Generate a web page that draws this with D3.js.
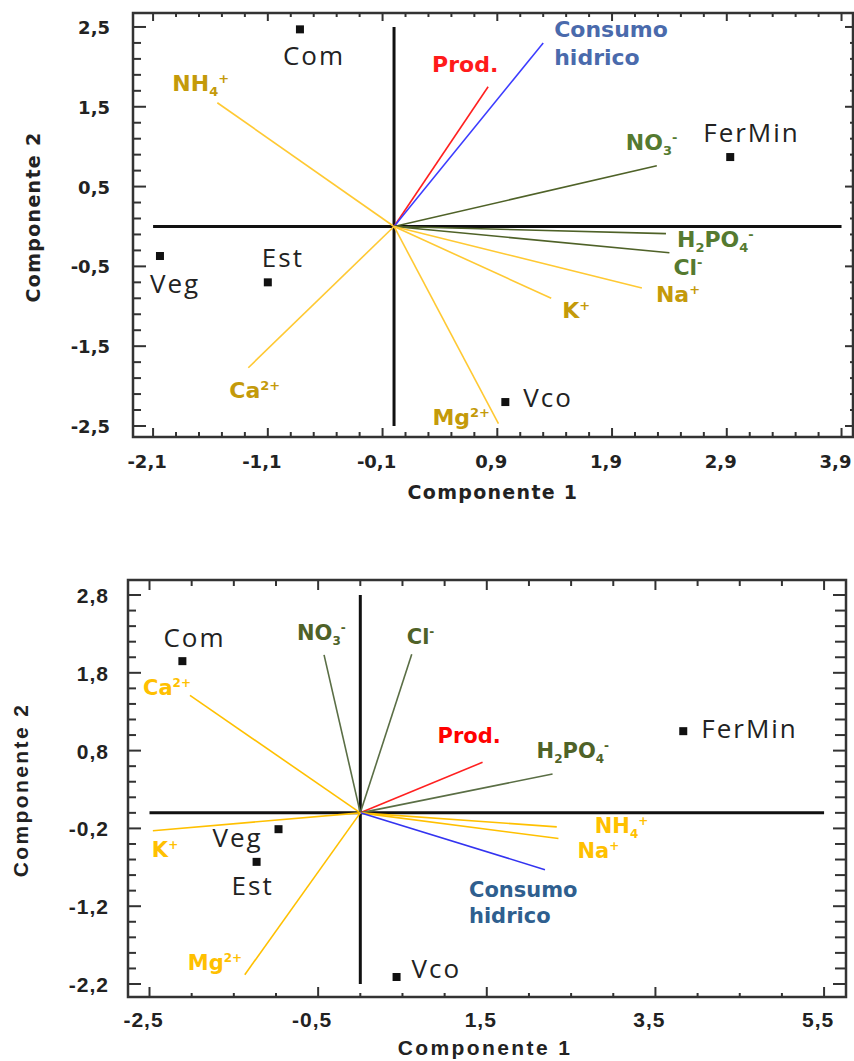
<!DOCTYPE html>
<html>
<head>
<meta charset="utf-8">
<script src="https://cdn.jsdelivr.net/npm/d3@7"></script>
<style>
    body { margin: 0; background: #fff; }
    svg { display: block; }
</style>
</head>
<body>
<div id="chart"></div>
<script>
// ---- data: first biplot (top) ----
var topSampleNames = ["Com", "FerMin", "Veg", "Est", "Vco"];
var topSampleC1 = [-0.82, 2.93, -2.04, -1.10, 0.97];
var topSampleC2 = [2.47, 0.87, -0.37, -0.70, -2.20];

var topVarNames = ["NH4+", "Prod.", "Consumo hidrico", "NO3-", "H2PO4-", "Cl-", "Na+", "K+", "Mg2+", "Ca2+"];
var topVarGroups = ["cation", "prod", "water", "anion", "anion", "anion", "cation", "cation", "cation", "cation"];
var topVarC1 = [-1.54, 0.82, 1.30, 2.29, 2.37, 2.40, 2.16, 1.37, 0.91, -1.27];
var topVarC2 = [1.55, 1.75, 2.30, 0.76, -0.09, -0.33, -0.77, -0.90, -2.47, -1.77];

var topXTicks = [-2.1, -1.1, -0.1, 0.9, 1.9, 2.9, 3.9];
var topYTicks = [2.5, 1.5, 0.5, -0.5, -1.5, -2.5];

// ---- data: second biplot (bottom) ----
var botSampleNames = ["Com", "FerMin", "Veg", "Est", "Vco"];
var botSampleC1 = [-2.11, 3.83, -0.97, -1.23, 0.43];
var botSampleC2 = [1.95, 1.05, -0.21, -0.63, -2.11];

var botVarNames = ["Ca2+", "NO3-", "Cl-", "Prod.", "H2PO4-", "NH4+", "Na+", "Consumo hidrico", "K+", "Mg2+"];
var botVarGroups = ["cation", "anion", "anion", "prod", "anion", "cation", "cation", "water", "cation", "cation"];
var botVarC1 = [-2.02, -0.43, 0.61, 1.45, 2.28, 2.33, 2.35, 2.19, -2.46, -1.37];
var botVarC2 = [1.51, 2.03, 2.04, 0.65, 0.50, -0.18, -0.33, -0.73, -0.23, -2.08];

var botXTicks = [-2.5, -0.5, 1.5, 3.5, 5.5];
var botYTicks = [2.8, 1.8, 0.8, -0.2, -1.2, -2.2];

// label markup (sub / superscripts)
var labelMarkup = {
    "NH4+": [["NH"], ["4", "sub"], ["+", "sup"]],
    "NO3-": [["NO"], ["3", "sub"], ["-", "sup"]],
    "H2PO4-": [["H"], ["2", "sub"], ["PO"], ["4", "sub"], ["-", "sup"]],
    "Cl-": [["Cl"], ["-", "sup"]],
    "Na+": [["Na"], ["+", "sup"]],
    "K+": [["K"], ["+", "sup"]],
    "Mg2+": [["Mg"], ["2+", "sup"]],
    "Ca2+": [["Ca"], ["2+", "sup"]],
    "Prod.": [["Prod."]]
};

var fmt = d3.formatLocale({decimal: ",", thousands: ".", grouping: [3], currency: ["", ""], minus: "-"}).format(".1f");

var svg = d3.select("#chart").append("svg")
    .attr("width", 854)
    .attr("height", 1061);

function drawBiplot(g, cfg) {
    var x = d3.scaleLinear().domain(cfg.xDomain).range([cfg.left, cfg.right]);
    var y = d3.scaleLinear().domain(cfg.yDomain).range([cfg.bottom, cfg.top]);

    var xMinor = d3.range(cfg.xTicks[0], cfg.xTicks[cfg.xTicks.length - 1] + 1e-6, cfg.xMinorStep);
    var yMinor = d3.range(cfg.yTicks[cfg.yTicks.length - 1], cfg.yTicks[0] + 1e-6, cfg.yMinorStep);

    var axes = g.append("g").attr("stroke", "#333").attr("stroke-width", 2);

    // minor + major ticks on all four sides, pointing inwards
    function isMajor(v, ticks) {
        return ticks.some(function(t) { return Math.abs(t - v) < 1e-6; });
    }
    xMinor.forEach(function(v) {
        var m = isMajor(v, cfg.xTicks);
        axes.append("line").attr("x1", x(v)).attr("x2", x(v))
            .attr("y1", cfg.bottom).attr("y2", cfg.bottom - (m ? cfg.tick.bottom[0] : cfg.tick.bottom[1]));
        axes.append("line").attr("x1", x(v)).attr("x2", x(v))
            .attr("y1", cfg.top).attr("y2", cfg.top + (m ? cfg.tick.top[0] : cfg.tick.top[1]));
    });
    yMinor.forEach(function(v) {
        var m = isMajor(v, cfg.yTicks);
        axes.append("line").attr("y1", y(v)).attr("y2", y(v))
            .attr("x1", cfg.left).attr("x2", cfg.left + (m ? cfg.tick.left[0] : cfg.tick.left[1]));
        axes.append("line").attr("y1", y(v)).attr("y2", y(v))
            .attr("x1", cfg.right).attr("x2", cfg.right - (m ? cfg.tick.right[0] : cfg.tick.right[1]));
    });

    g.append("rect")
        .attr("x", cfg.left)
        .attr("y", cfg.top)
        .attr("width", cfg.right - cfg.left)
        .attr("height", cfg.bottom - cfg.top)
        .attr("fill", "none")
        .attr("stroke", "#333")
        .attr("stroke-width", 2.5);

    // tick labels
    g.append("g").selectAll("text")
        .data(cfg.xTicks)
        .enter().append("text")
            .attr("x", function(d) { return x(d) - 6; })
            .attr("y", cfg.bottom + cfg.xLabelDy)
            .attr("text-anchor", "middle")
            .style("font", cfg.tickFont)
            .style("letter-spacing", cfg.tickSpacing)
            .attr("fill", "#222")
            .text(fmt);

    g.append("g").selectAll("text")
        .data(cfg.yTicks)
        .enter().append("text")
            .attr("x", cfg.yLabelX)
            .attr("y", function(d) { return y(d) + cfg.yLabelDy; })
            .attr("text-anchor", "end")
            .style("font", cfg.tickFont)
            .style("letter-spacing", cfg.tickSpacing)
            .attr("fill", "#222")
            .text(fmt);

    // axis titles
    g.append("text")
        .attr("x", (cfg.left + cfg.right) / 2 + cfg.titleShift)
        .attr("y", cfg.xTitleY)
        .attr("text-anchor", "middle")
        .style("font", cfg.titleFont)
        .style("letter-spacing", cfg.titleSpacing)
        .attr("fill", "#222")
        .text("Componente 1");

    g.append("text")
        .attr("transform", "translate(" + cfg.yTitleX + "," + cfg.yTitleY + ") rotate(-90)")
        .attr("text-anchor", "middle")
        .style("font", cfg.titleFont)
        .style("letter-spacing", cfg.titleSpacing)
        .attr("fill", "#222")
        .text("Componente 2");

    // origin cross
    g.append("line")
        .attr("x1", x(cfg.xTicks[0])).attr("x2", x(cfg.xTicks[cfg.xTicks.length - 1]))
        .attr("y1", y(0)).attr("y2", y(0))
        .attr("stroke", "#111").attr("stroke-width", 3);
    g.append("line")
        .attr("x1", x(0)).attr("x2", x(0))
        .attr("y1", y(cfg.yTicks[0])).attr("y2", y(cfg.yTicks[cfg.yTicks.length - 1]))
        .attr("stroke", "#111").attr("stroke-width", 3);

    // variable vectors
    var vars = cfg.varNames.map(function(n, i) {
        return {name: n, group: cfg.varGroups[i], c1: cfg.varC1[i], c2: cfg.varC2[i]};
    });

    g.append("g").selectAll("line")
        .data(vars)
        .enter().append("line")
            .attr("x1", x(0)).attr("y1", y(0))
            .attr("x2", function(d) { return x(d.c1); })
            .attr("y2", function(d) { return y(d.c2); })
            .attr("stroke", function(d) { return cfg.lineColors[d.group]; })
            .attr("stroke-width", 1.6);

    vars.forEach(function(d) {
        var off = cfg.varLabelOffsets[d.name];
        var tx = x(d.c1) + off[0], ty = y(d.c2) + off[1];
        var t = g.append("text")
            .attr("x", tx).attr("y", ty)
            .style("font", cfg.varFont)
            .style("letter-spacing", cfg.varSpacing)
            .attr("fill", cfg.labelColors[d.group]);
        if (d.name === "Consumo hidrico") {
            t.append("tspan").attr("x", tx).text("Consumo");
            t.append("tspan").attr("x", tx).attr("dy", cfg.lineGap).text("hidrico");
            return;
        }
        var shift = 0;
        labelMarkup[d.name].forEach(function(p) {
            var target = p[1] === "sub" ? cfg.subShift : (p[1] === "sup" ? cfg.supShift : 0);
            var ts = t.append("tspan").attr("dy", target - shift).text(p[0]);
            if (p[1]) ts.style("font-size", cfg.smallSize);
            shift = target;
        });
    });

    // sample points
    var samples = cfg.sampleNames.map(function(n, i) {
        return {name: n, c1: cfg.sampleC1[i], c2: cfg.sampleC2[i]};
    });

    g.append("g").selectAll("rect")
        .data(samples)
        .enter().append("rect")
            .attr("x", function(d) { return x(d.c1) - 4; })
            .attr("y", function(d) { return y(d.c2) - 4; })
            .attr("width", 8)
            .attr("height", 8)
            .attr("fill", "#111");

    g.append("g").selectAll("text")
        .data(samples)
        .enter().append("text")
            .attr("x", function(d) { return x(d.c1) + cfg.sampleLabelOffsets[d.name][0]; })
            .attr("y", function(d) { return y(d.c2) + cfg.sampleLabelOffsets[d.name][1]; })
            .style("font", "26px 'Open Sans'")
            .style("letter-spacing", "2px")
            .attr("fill", "#222")
            .text(function(d) { return d.name; });
}

drawBiplot(svg.append("g").classed("biplot-top", true), {
    left: 133, right: 853, top: 13, bottom: 437,
    xDomain: [-2.275, 4.0], yDomain: [-2.638, 2.675],
    xTicks: topXTicks, yTicks: topYTicks,
    xMinorStep: 0.2, yMinorStep: 0.2,
    tick: {left: [13, 8], bottom: [9, 5], top: [8, 4], right: [8, 3]},
    tickFont: "bold 18px 'DejaVu Sans'", tickSpacing: "0px",
    xLabelDy: 31, yLabelX: 110, yLabelDy: 7,
    titleFont: "bold 19px 'DejaVu Sans'", titleSpacing: "1.3px",
    titleShift: 0, xTitleY: 499, yTitleX: 40, yTitleY: 217,
    sampleNames: topSampleNames, sampleC1: topSampleC1, sampleC2: topSampleC2,
    varNames: topVarNames, varGroups: topVarGroups, varC1: topVarC1, varC2: topVarC2,
    lineColors: {cation: "#ffc933", anion: "#4f6228", prod: "#ff2020", water: "#3c3cff"},
    labelColors: {cation: "#c49a0a", anion: "#557a30", prod: "#ff1a1a", water: "#4a6aac"},
    varFont: "bold 22px 'DejaVu Sans'", varSpacing: "0px",
    smallSize: "13px", subShift: 5, supShift: -8, lineGap: 28,
    varLabelOffsets: {
        "NH4+": [-45, -12], "Prod.": [-56, -15], "Consumo hidrico": [11, -6],
        "NO3-": [-31, -16], "H2PO4-": [11, 13], "Cl-": [4, 22], "Na+": [14, 14],
        "K+": [11, 20], "Mg2+": [-66, 1], "Ca2+": [-19, 30]
    },
    sampleLabelOffsets: {
        "Com": [-17, 36], "FerMin": [-27, -15], "Veg": [-10, 37], "Est": [-6, -15], "Vco": [18, 5]
    }
});

drawBiplot(svg.append("g").classed("biplot-bottom", true), {
    left: 128, right: 846, top: 580, bottom: 997,
    xDomain: [-2.755, 5.76], yDomain: [-2.367, 2.993],
    xTicks: botXTicks, yTicks: botYTicks,
    xMinorStep: 0.5, yMinorStep: 0.2,
    tick: {left: [13, 8], bottom: [10, 4], top: [10, 6], right: [13, 11]},
    tickFont: "bold 21px 'Liberation Sans'", tickSpacing: "1px",
    xLabelDy: 30, yLabelX: 109, yLabelDy: 8,
    titleFont: "bold 21px 'Liberation Sans'", titleSpacing: "2.4px",
    titleShift: -2, xTitleY: 1055, yTitleX: 28, yTitleY: 790,
    sampleNames: botSampleNames, sampleC1: botSampleC1, sampleC2: botSampleC2,
    varNames: botVarNames, varGroups: botVarGroups, varC1: botVarC1, varC2: botVarC2,
    lineColors: {cation: "#ffc000", anion: "#5a6e45", prod: "#ff2020", water: "#3333f0"},
    labelColors: {cation: "#ffc000", anion: "#4f6228", prod: "#ff0000", water: "#2f5f8f"},
    varFont: "bold 21px 'DejaVu Sans'", varSpacing: "0px",
    smallSize: "12px", subShift: 5, supShift: -8, lineGap: 26,
    varLabelOffsets: {
        "Ca2+": [-47, 0], "NO3-": [-27, -15], "Cl-": [-5, -10], "Prod.": [-45, -19],
        "H2PO4-": [-16, -16], "NH4+": [38, 6], "Na+": [19, 19], "Consumo hidrico": [-76, 27],
        "K+": [-1, 26], "Mg2+": [-57, -5]
    },
    sampleLabelOffsets: {
        "Com": [-19, -14], "FerMin": [18, 7], "Veg": [-66, 18], "Est": [-25, 33], "Vco": [15, 1]
    }
});
</script>
</body>
</html>
